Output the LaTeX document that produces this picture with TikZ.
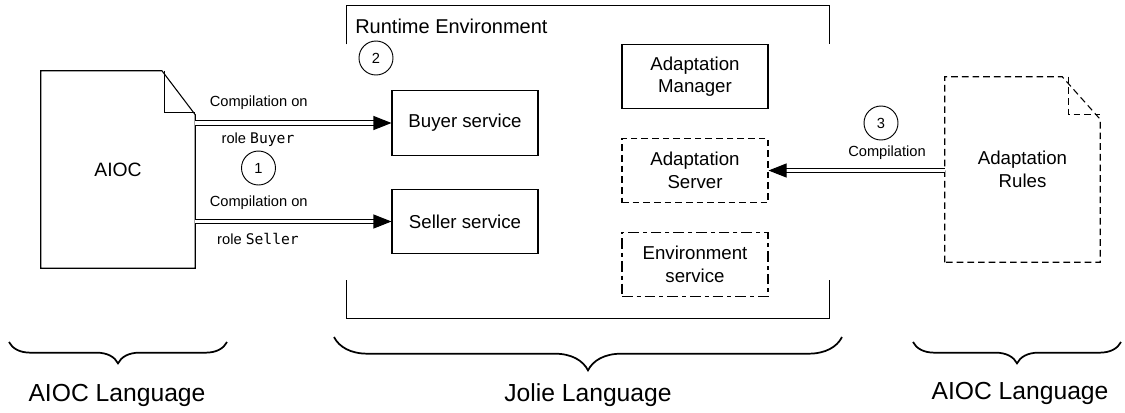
\documentclass[tikz,border=0pt]{standalone}
\usepackage{fontspec}
\setmainfont{Liberation Sans}
\setmonofont{DejaVu Sans Mono}
\usetikzlibrary{arrows.meta, positioning, decorations.pathreplacing}

\tikzset{
  box/.style={draw, line width=0.8pt, minimum width=109.5pt, minimum height=48.5pt,
    align=center, font=\fontsize{14}{17}\selectfont},
  dashbox/.style={box, dash pattern=on 5pt off 3pt},
  envbox/.style={box, dash pattern=on 8pt off 3pt on 3pt off 3pt},
  num/.style={draw, circle, line width=0.7pt, minimum size=25.5pt, inner sep=0pt,
    font=\fontsize{11}{13}\selectfont},
  lbl/.style={inner sep=0pt, font=\fontsize{11}{13}\selectfont},
  compile/.style={double, double distance=2.3pt, line width=0.8pt,
    -{Triangle[length=13.5pt, width=10.5pt]}},
  lang/.style={font=\fontsize{18.5}{22}\selectfont},
  langbrace/.style={decorate, decoration={brace, mirror, amplitude=#1}, line width=1.3pt},
}

\begin{document}
\begin{tikzpicture}[x=0.75pt, y=-0.75pt]
  \useasboundingbox (0,0) rectangle (1125,412);

  % source documents
  \node[minimum width=115.5pt, minimum height=147.75pt, font=\fontsize{14.5}{17}\selectfont] (aioc) at (118,169.5) {AIOC};
  \draw[line width=0.8pt] (aioc.south west) |- ([xshift=-25pt]aioc.north east)
    -- ([yshift=-33pt]aioc.north east) -- (aioc.south east) -- cycle;
  \draw[line width=0.8pt] ([xshift=-23pt]aioc.north east) |- ([yshift=-31pt]aioc.north east);

  \node[minimum width=116.25pt, minimum height=138.75pt, align=center, font=\fontsize{14}{17}\selectfont] (rules) at (1022.5,169.5) {Adaptation\\Rules};
  \draw[line width=0.8pt, dash pattern=on 5pt off 3pt] (rules.south west) |- ([xshift=-28.5pt]rules.north east)
    -- ([yshift=-32pt]rules.north east) -- (rules.south east) -- cycle;
  \draw[line width=0.8pt, dash pattern=on 5pt off 3pt] ([xshift=-24pt]rules.north east) |- ([yshift=-28pt]rules.north east);

  % runtime frame
  \node[minimum width=361.5pt, minimum height=234pt] (rt) at (588,162) {};
  \draw[line width=0.8pt] ([yshift=-29pt]rt.north west) -- (rt.north west) -- (rt.north east) -- ([yshift=-29pt]rt.north east);
  \draw[line width=0.8pt] ([yshift=28.5pt]rt.south west) -- (rt.south west) -- (rt.south east) -- ([yshift=28.5pt]rt.south east);
  \node[anchor=west, inner sep=0pt, font=\fontsize{15}{18}\selectfont] (rtname) at (355,26) {Runtime Environment};

  \node[num] (n1) at (258.5,168) {1};
  \node[num] (n2) at (376,58) {2};
  \node[num] (n3) at (881,123) {3};

  \node[box] (buyer) at (465,123) {Buyer service};
  \node[box] (seller) at (465,221.5) {Seller service};
  \node[box] (manager) at (695,76.5) {Adaptation\\Manager};
  \node[dashbox] (server) at (695,170.5) {Adaptation\\Server};
  \node[envbox] (env) at (695,264.5) {Environment\\service};

  \draw[compile] (aioc.east |- buyer.west) -- (buyer.west);
  \draw[compile] (aioc.east |- seller.west) -- (seller.west);
  \draw[compile] (rules.west |- server.east) -- (server.east);

  \node[lbl] (c1) at (258.7,103) {Compilation on};
  \node[lbl] (r1) at (258,140) {role \texttt{Buyer}};
  \node[lbl] (c2) at (258.7,203) {Compilation on};
  \node[lbl] (r2) at (258,239) {role \texttt{Seller}};
  \node[lbl] (c3) at (887,153) {Compilation};

  % languages
  \coordinate (b1l) at (9,342);
  \coordinate (b1r) at (227,342);
  \coordinate (b2l) at (334,337);
  \coordinate (b2r) at (842,337);
  \coordinate (b3l) at (913,342);
  \coordinate (b3r) at (1121,342);
  \draw[langbrace=16pt] (b1l) -- (b1r);
  \draw[langbrace=25pt] (b2l) -- (b2r);
  \draw[langbrace=16pt] (b3l) -- (b3r);
  \node[lang] (lang1) at (117,395) {AIOC Language};
  \node[lang] (lang2) at (588,395) {Jolie Language};
  \node[lang] (lang3) at (1020,393) {AIOC Language};
\end{tikzpicture}
\end{document}
